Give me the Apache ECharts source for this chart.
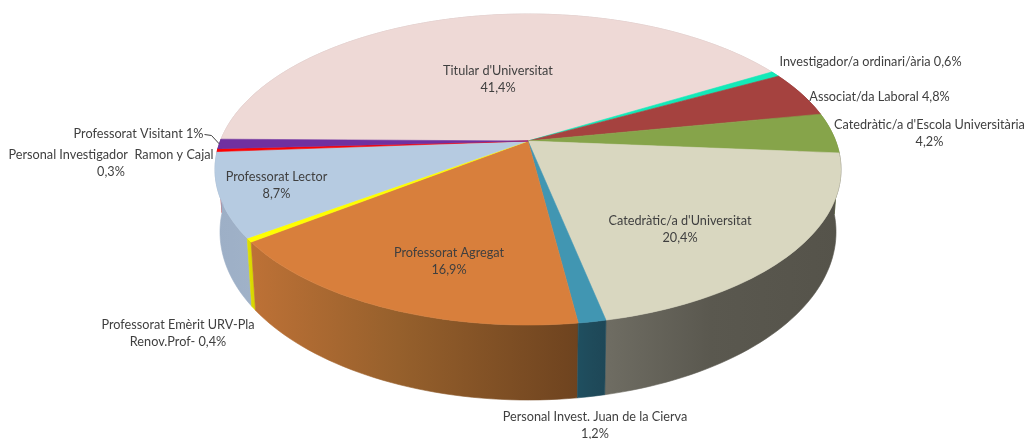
<!DOCTYPE html>
<html><head><meta charset="utf-8">
<style>html,body{margin:0;padding:0;background:#fff}#c{width:1025px;height:439px}</style>
<script src="https://cdn.jsdelivr.net/npm/echarts@6/dist/echarts.min.js"></script>
</head><body><div id="c"></div>
<script>
// ---- data (percent shares, clockwise from the start angle) ----
const categories = ["Titular d'Universitat","Investigador/a ordinari/ària","Associat/da Laboral","Catedràtic/a d'Escola Universitària","Catedràtic/a d'Universitat","Personal Invest. Juan de la Cierva","Professorat Agregat","Professorat Emèrit URV-Pla Renov.Prof-","Professorat Lector","Personal Investigador  Ramon y Cajal","Professorat Visitant"];
const values = [41.4,0.6,4.8,4.2,20.4,1.2,16.9,0.4,8.7,0.3,1];
const labelTexts = ["Titular d'Universitat\n41,4%","Investigador/a ordinari/ària 0,6%","Associat/da Laboral 4,8%","Catedràtic/a d'Escola Universitària\n4,2%","Catedràtic/a d'Universitat\n20,4%","Personal Invest. Juan de la Cierva\n1,2%","Professorat Agregat\n16,9%","Professorat Emèrit URV-Pla\nRenov.Prof- 0,4%","Professorat Lector\n8,7%","Personal Investigador  Ramon y Cajal\n0,3%","Professorat Visitant 1%"];

// ---- styles ----
const topColors = ['#eed9d6','#12eab8','#a5423f','#86a44a','#d9d7c0','#4196b2','#d87f3c','#ffff00','#b6cbe1','#ff0000','#7030a0'];
const wallLeft  = ['#c9b8b5','#0fc79c','#8c3836','#728b3f','#6f6d63','#1f4f60','#bd7136','#e0e000','#9dafc6','#d90000','#5f2988'];
const wallMid   = ['#c9b8b5','#0fc79c','#8c3836','#728b3f','#5a584f','#1f4b5b','#96602c','#dada00','#9eb0c7','#d90000','#5f2988'];
const wallRight = ['#c9b8b5','#0fc79c','#8c3836','#728b3f','#55534a','#1e4757','#6e431f','#d4d400','#a0b2c8','#d90000','#5f2988'];
const labelCentres = [[498,79],[870.5,61.5],[879.5,96.5],[929.5,133],[680,229],[595,425.5],[449,261],[178,333],[276.5,185],[111,163.5],[138.5,133.5]];

// ---- projection of the tilted disc (perspective homography) ----
const CX=528, PERSP=0.1833, START=179.3;
const TOP={a:-124.43,b:141,r:307.7}, BOT={a:-125.5,b:201.2,r:302.8};
function proj(face,deg){
  const t=deg*Math.PI/180,u=Math.cos(t),v=Math.sin(t),w=1+PERSP*v;
  return [CX+face.r*u/w,(face.a*v+face.b)/w];
}
function arc(face,a0,a1){
  const n=Math.max(2,Math.ceil(Math.abs(a1-a0)/1.5)),pts=[];
  for(let i=0;i<=n;i++)pts.push(proj(face,a0+(a1-a0)*i/n));
  return pts;
}
const total=values.reduce((s,x)=>s+x,0);

function renderItem(params,api){
  const i=params.dataIndex,val=api.value(0);
  let before=0;for(let k=0;k<i;k++)before+=values[k];
  const a0=START-before/total*360,a1=a0-val/total*360;
  const topArc=arc(TOP,a0,a1),botArc=arc(BOT,a0,a1);
  const wallPts=topArc.concat(botArc.slice().reverse());
  const xs=wallPts.map(p=>p[0]);
  const mid=Math.sin((a0+a1)/2*Math.PI/180);
  const grad=new echarts.graphic.LinearGradient(Math.min(...xs),0,Math.max(...xs),0,
    [{offset:0,color:wallLeft[i]},{offset:0.45,color:wallMid[i]},{offset:1,color:wallRight[i]}],true);
  const children=[
    {type:'polygon',z2:10-mid,shape:{points:wallPts},style:{fill:grad,stroke:grad,lineWidth:0.6}},
    {type:'polygon',z2:50,shape:{points:[[CX,TOP.b]].concat(topArc)},style:{fill:topColors[i],stroke:topColors[i],lineWidth:0.6}},
    {type:'text',z2:100,style:{x:labelCentres[i][0],y:labelCentres[i][1],text:labelTexts[i],align:'center',verticalAlign:'middle',
      font:'12.7px Lato',lineHeight:17,fill:'#3f3f3f'}}
  ];
  if(i===values.length-1){
    const edge=proj(TOP,(a0+a1)/2);
    children.push({type:'polyline',z2:90,shape:{points:[[labelCentres[i][0]+66,labelCentres[i][1]+1],[labelCentres[i][0]+73,labelCentres[i][1]+2],edge]},style:{fill:'none',stroke:'#404040',lineWidth:1}});
  }
  return {type:'group',children};
}

const chart=echarts.init(document.getElementById('c'),null,{renderer:'canvas'});
chart.setOption({
  backgroundColor:'#ffffff',animation:false,tooltip:{show:false},
  series:[{type:'custom',coordinateSystem:'none',silent:true,renderItem,
    encode:{value:0},
    data:values.map((v,i)=>({name:categories[i],value:[v]}))}]
});
</script></body></html>
